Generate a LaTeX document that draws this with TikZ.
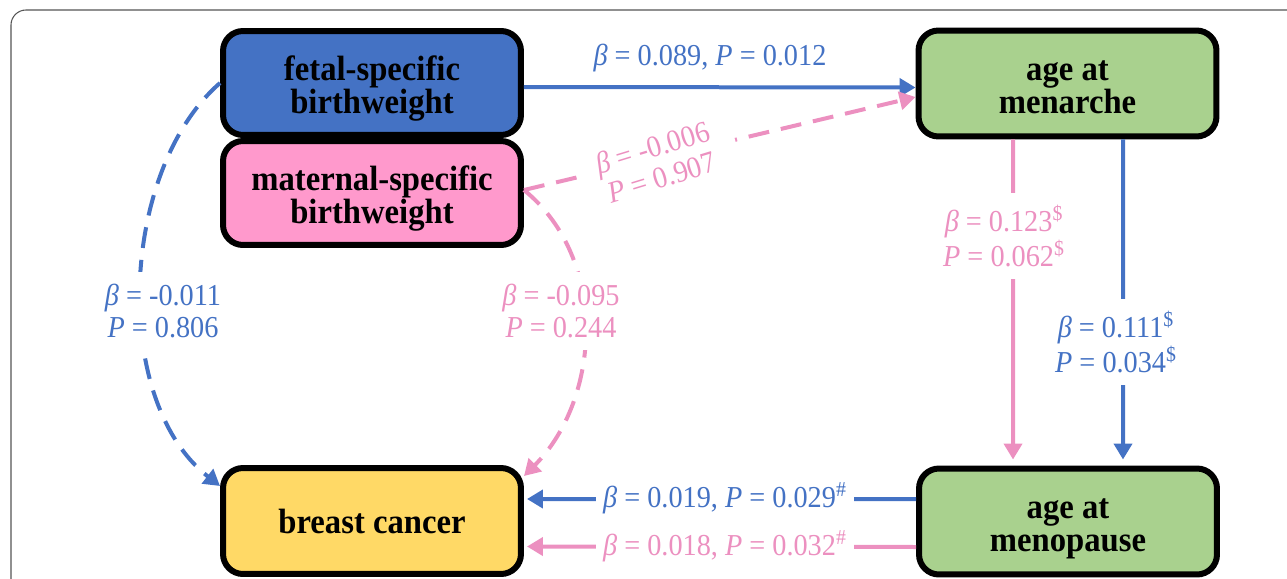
\documentclass[tikz,border=0pt]{standalone}
\usepackage{fontspec}
\setmainfont{Liberation Serif}
\newfontfamily\boxfont[FakeStretch=0.93]{Liberation Serif}
\newfontfamily\labfont[FakeStretch=0.93]{Liberation Serif}
\usetikzlibrary{arrows.meta}
\newcommand\boxtop{\rule{0pt}{20.8pt}}
\newcommand\boxbot{\rule[-5pt]{0pt}{5pt}}
\definecolor{cblue}{HTML}{4472C4}
\definecolor{cpink}{HTML}{EC90C0}
\definecolor{fpink}{HTML}{FF99CC}
\definecolor{fgreen}{HTML}{A9D18E}
\definecolor{fyellow}{HTML}{FFD966}
\definecolor{framegray}{HTML}{555555}
\begin{document}
\begin{tikzpicture}[x=0.02cm,y=-0.02cm,
 box/.style={draw=black, line width=0.12cm, rounded corners=0.4cm, minimum width=5.96cm, minimum height=2.08cm, inner sep=0pt, align=center, font=\boxfont\fontsize{20}{18.8}\selectfont\bfseries},
 lab/.style={font=\labfont\fontsize{17.3}{17.8}\selectfont, align=center, inner sep=0pt},
 conn/.style={line width=0.08cm, -{Triangle[length=0.32cm,width=0.36cm]}},
 dsh/.style={dash pattern=on 0.42cm off 0.24cm},
 gap/.style={fill=white, inner xsep=0.15cm, inner ysep=0.25cm}
]
\useasboundingbox (0,0) rectangle (1287,578);
\clip (0,0) rectangle (1287,578);
\draw[framegray, line width=0.6pt, rounded corners=0.3cm] (11,700) -- (11,10) -- (1400,10);

\node[box, fill=cblue] (fetal) at (372,83) {\boxtop fetal-specific\\birthweight\boxbot};
\node[box, fill=fpink] (maternal) at (372,193) {\boxtop maternal-specific\\birthweight\boxbot};
\node[box, fill=fgreen, minimum height=2.12cm] (menarche) at (1067.5,83.5) {\boxtop age at\\menarche\boxbot};
\node[box, fill=fyellow, minimum height=2.12cm] (bc) at (372,521) {breast cancer};
\node[box, fill=fgreen, minimum height=2.12cm] (menopause) at (1068,521.5) {\boxtop age at\\menopause\boxbot};

% fetal -> menarche
\draw[conn, cblue] ([yshift=-0.08cm]fetal.east) -- ([yshift=-0.08cm]menarche.west);
\node[lab, text=cblue] (l1) at (710,58) {\textit{β} = 0.089, \textit{P} = 0.012};

% maternal -> menarche
\draw[conn, cpink, dsh] ([yshift=0.06cm]maternal.east) -- ([yshift=-0.27cm]menarche.west);
\node[lab, text=cpink, gap, inner xsep=0.45cm, rotate=17] (l2) at (657,162) {\textit{β} = -0.006\\\textit{P} = 0.907};

% fetal -> breast cancer
\draw[conn, cblue, dsh] (fetal.west) .. controls (120,170) and (110,400) .. ([yshift=0.7cm]bc.west);
\node[lab, text=cblue, gap] (l3) at (163,311) {\textit{β} = -0.011\\\textit{P} = 0.806};

% maternal -> breast cancer
\draw[conn, cpink, dsh] ([yshift=0.06cm]maternal.east) .. controls (610,260) and (600,400) .. ([yshift=-0.22cm]bc.north east);
\node[lab, text=cpink, gap] (l4) at (561,311) {\textit{β} = -0.095\\\textit{P} = 0.244};

% menarche -> menopause
\draw[conn, cpink] ([xshift=-1.09cm]menarche.south) -- ([xshift=-1.1cm, yshift=0.12cm]menopause.north);
\draw[conn, cblue] ([xshift=1.11cm]menarche.south) -- ([xshift=1.1cm, yshift=0.12cm]menopause.north);
\node[lab, text=cpink, gap] (l5) at (1004,236) {\textit{β} = 0.123\textsuperscript{\$}\\\textit{P} = 0.062\textsuperscript{\$}};
\node[lab, text=cblue, gap] (l6) at (1116,342) {\textit{β} = 0.111\textsuperscript{\$}\\\textit{P} = 0.034\textsuperscript{\$}};

% menopause -> breast cancer
\draw[conn, cblue] ([yshift=0.45cm]menopause.west) -- ([yshift=0.44cm, xshift=0.06cm]bc.east);
\draw[conn, cpink] ([yshift=-0.51cm]menopause.west) -- ([yshift=-0.51cm, xshift=0.06cm]bc.east);
\node[lab, text=cblue, gap] (l7) at (725,498) {\textit{β} = 0.019, \textit{P} = 0.029\textsuperscript{\#}};
\node[lab, text=cpink, gap] (l8) at (725,546) {\textit{β} = 0.018, \textit{P} = 0.032\textsuperscript{\#}};
\end{tikzpicture}
\end{document}
